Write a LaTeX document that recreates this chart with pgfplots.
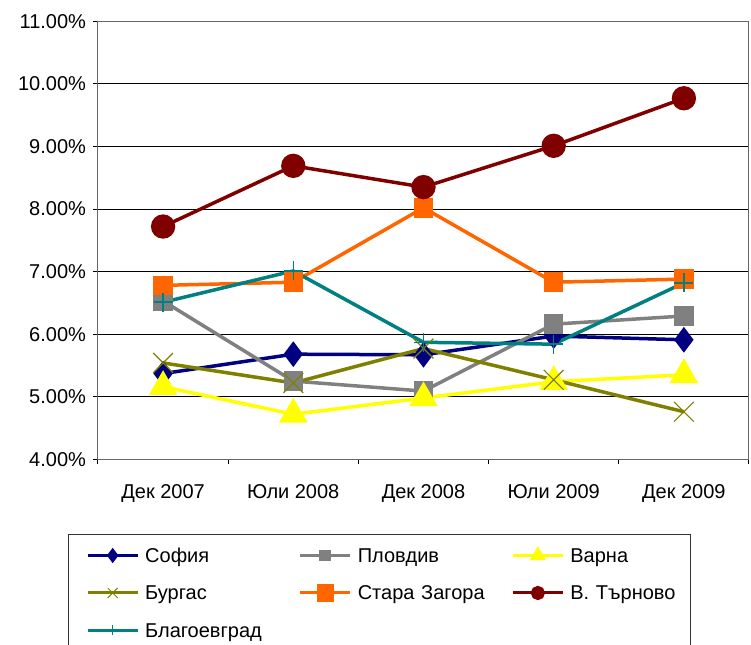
\documentclass[border=0pt]{standalone}
\usepackage{fontspec}
\setmainfont{Liberation Sans}
\usepackage{pgfplots}
\pgfplotsset{compat=1.18}
\definecolor{cSof}{HTML}{000080}
\definecolor{cPlo}{HTML}{808080}
\definecolor{cVar}{HTML}{FFFF00}
\definecolor{cBur}{HTML}{808000}
\definecolor{cSta}{HTML}{FF6600}
\definecolor{cTar}{HTML}{800000}
\definecolor{cBla}{HTML}{008080}
\begin{document}
\begin{tikzpicture}
\begin{axis}[
  at={(0,0)}, anchor=south west,
  scale only axis, width=325.5bp, height=219bp,
  xmin=0.5, xmax=5.5, ymin=4, ymax=11,
  xtick={0.5,1.5,2.5,3.5,4.5,5.5},
  x tick label as interval,
  xticklabels={Дек 2007, Юли 2008, Дек 2008, Юли 2009, Дек 2009, {}},
  ytick={4,5,6,7,8,9,10,11},
  /pgf/number format/assume math mode=true,
  yticklabel={\pgfmathprintnumber[fixed,fixed zerofill,precision=2]{\tick}\%},
  tick align=outside, xtick pos=bottom, ytick pos=left,
  major tick length=2.5bp,
  tick style={black, line width=0.5bp},
  ymajorgrids, grid style={black, line width=0.5bp},
  axis line style={black!60, line width=0.5bp},
  ticklabel style={font=\fontsize{10bp}{12bp}\selectfont},
  xticklabel style={yshift=-6.5bp},
  legend columns=3,
  legend cell align=left,
  legend image code/.code={\draw[mark repeat=2,mark phase=2] plot coordinates {(0bp,0bp)(12.5bp,0bp)(25bp,0bp)};},
  legend style={at={(-0.04608,-0.1705)}, anchor=north west,
    draw=black!80, line width=0.5bp,
    inner xsep=8.85bp, inner ysep=3.5bp, row sep=4.75bp,
    nodes={inner xsep=3bp, inner ysep=1.5bp, text height=9bp, text depth=2bp, text width=48.2bp,
      font=\fontsize{10bp}{12bp}\selectfont},
    /tikz/every even column/.append style={column sep=25.6bp}},
]
\addplot[cSof, line width=1.75bp, mark=diamond*, mark size=5bp, forget plot]
  coordinates {(1,5.37)(2,5.68)(3,5.67)(4,5.97)(5,5.91)};
\addplot[cPlo, line width=1.75bp, mark=square*, mark size=4bp, forget plot]
  coordinates {(1,6.53)(2,5.25)(3,5.09)(4,6.16)(5,6.29)};
\addplot[cVar, line width=1.75bp, mark=triangle*, mark size=6.5bp, forget plot]
  coordinates {(1,5.16)(2,4.72)(3,4.98)(4,5.24)(5,5.35)};
\addplot[cBur, line width=1.75bp, mark=x, mark size=7bp, mark options={line width=0.6bp}, forget plot]
  coordinates {(1,5.54)(2,5.22)(3,5.77)(4,5.27)(5,4.76)};
\addplot[cSta, line width=1.75bp, mark=square*, mark size=4bp, forget plot]
  coordinates {(1,6.78)(2,6.83)(3,8.02)(4,6.83)(5,6.88)};
\addplot[cTar, line width=1.75bp, mark=*, mark size=5.2bp, forget plot]
  coordinates {(1,7.72)(2,8.69)(3,8.35)(4,9.01)(5,9.77)};
\addplot[cBla, line width=1.75bp, mark=+, mark size=4.75bp, mark options={line width=0.75bp}, forget plot]
  coordinates {(1,6.51)(2,7.01)(3,5.87)(4,5.84)(5,6.82)};

\addlegendimage{cSof, line width=1.5bp, mark=diamond*, mark size=2.6bp}
\addlegendentry{София}
\addlegendimage{cPlo, line width=1.5bp, mark=square*, mark size=2.2bp}
\addlegendentry{Пловдив}
\addlegendimage{cVar, line width=1.5bp, mark=triangle*, mark size=3.2bp}
\addlegendentry{Варна}
\addlegendimage{cBur, line width=1.5bp, mark=x, mark size=3.5bp, mark options={line width=0.5bp}}
\addlegendentry{Бургас}
\addlegendimage{cSta, line width=1.5bp, mark=square*, mark size=3.6bp}
\addlegendentry{\mbox{Стара Загора}}
\addlegendimage{cTar, line width=1.5bp, mark=*, mark size=2.8bp}
\addlegendentry{\mbox{В. Търново}}
\addlegendimage{cBla, line width=1.5bp, mark=+, mark size=2.5bp, mark options={line width=0.6bp}}
\addlegendentry{Благоевград}
\end{axis}
\pgfresetboundingbox
\path[use as bounding box] (-49bp,-92.85bp) rectangle (326.5bp,229.65bp);
\end{tikzpicture}
\end{document}
